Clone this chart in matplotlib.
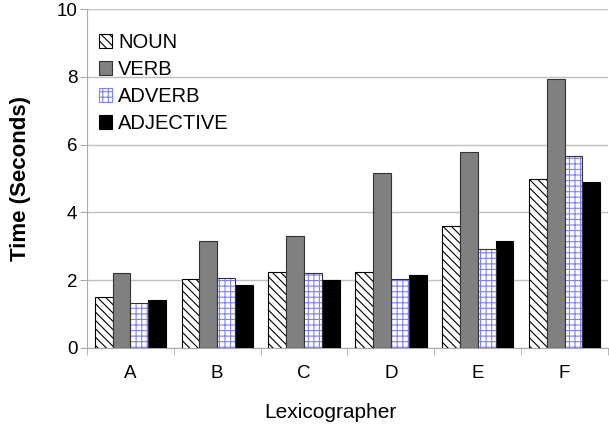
import matplotlib
matplotlib.use("Agg")
import matplotlib.pyplot as plt
import numpy as np
from matplotlib.patches import Patch

plt.rcParams['font.family'] = ['Liberation Sans', 'DejaVu Sans']
plt.rcParams['hatch.linewidth'] = 0.8

categories = ['A', 'B', 'C', 'D', 'E', 'F']
series_names = ['NOUN', 'VERB', 'ADVERB', 'ADJECTIVE']
noun = [1.5, 2.03, 2.24, 2.25, 3.6, 5.0]
verb = [2.2, 3.15, 3.31, 5.15, 5.78, 7.93]
adverb = [1.34, 2.06, 2.21, 2.05, 2.93, 5.65]
adjective = [1.42, 1.87, 2.02, 2.15, 3.16, 4.9]
yticks = [0, 2, 4, 6, 8, 10]

fig = plt.figure(figsize=(6.09, 4.28), dpi=100)
ax = fig.add_axes([87/609, 1-348/428, 521/609, 339/428])

x = np.arange(len(categories))
w = 0.205
offs = [-1.5*w, -0.5*w, 0.5*w, 1.5*w]

ax.bar(x + offs[0], noun, w, color='white', edgecolor='black', hatch='\\\\\\\\', linewidth=0.8, zorder=3)
ax.bar(x + offs[1], verb, w, color='#808080', edgecolor='#333333', linewidth=0.8, zorder=3)
ax.bar(x + offs[2], adverb, w, color='white', edgecolor='#8080ff', hatch='+++', linewidth=0, zorder=3)
ax.bar(x + offs[2], adverb, w, fill=False, edgecolor='#333333', linewidth=0.8, zorder=4)
ax.bar(x + offs[3], adjective, w, color='black', edgecolor='black', linewidth=0.8, zorder=3)

ax.set_xlim(-0.5, len(categories) - 0.5)
ax.set_ylim(0, 10)
ax.set_yticks(yticks)
ax.set_yticklabels([str(t) for t in yticks], fontsize=13.5)
ax.set_xticks(x)
ax.set_xticklabels(categories, fontsize=13.5)
ax.tick_params(axis='x', length=0, pad=12)
ax.set_xticks(np.arange(len(categories) + 1) - 0.5, minor=True)
ax.tick_params(axis='x', which='minor', length=5, color='#aaaaaa')
ax.tick_params(axis='y', length=5, color='#aaaaaa', pad=2)

ax.yaxis.grid(True, color='#c0c0c0', linewidth=1.0, zorder=0)
ax.set_axisbelow(True)
for s in ['top', 'right']:
    ax.spines[s].set_visible(False)
ax.spines['left'].set_color('#aaaaaa')
ax.spines['bottom'].set_color('#aaaaaa')

ax.set_ylabel('Time (Seconds)', fontsize=16, fontweight='bold')
ax.yaxis.set_label_coords(-0.107, 0.5)
ax.set_xlabel('Lexicographer', fontsize=15)
ax.xaxis.set_label_coords(0.468, -0.163)

handles = [
    Patch(facecolor='white', edgecolor='black', hatch='\\\\\\\\', linewidth=0.8),
    Patch(facecolor='#808080', edgecolor='#333333', linewidth=0.8),
    Patch(facecolor='white', edgecolor='#8080ff', hatch='+++', linewidth=0.8),
    Patch(facecolor='black', edgecolor='black', linewidth=0.8),
]
leg = ax.legend(handles, series_names, loc='upper left', bbox_to_anchor=(0.0, 0.965),
                frameon=False, fontsize=14.5, handlelength=0.65, handleheight=0.7,
                handletextpad=0.3, labelspacing=0.4, borderaxespad=0.2)

fig.savefig('out.png', dpi=100)
